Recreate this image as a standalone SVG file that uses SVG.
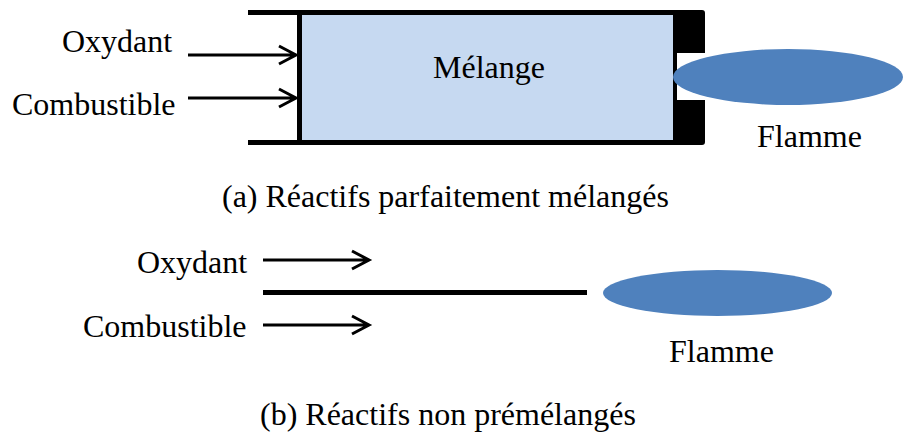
<svg xmlns="http://www.w3.org/2000/svg" width="904" height="437" viewBox="0 0 904 437">
<rect width="904" height="437" fill="#fff"/>
<g id="chamber">
<rect x="300" y="13" width="374" height="128" fill="#C6D9F1"/>
<g stroke="#000" stroke-width="5" fill="none">
<line x1="248" y1="12.5" x2="690" y2="12.5"/>
<line x1="248" y1="142.5" x2="690" y2="142.5"/>
<line x1="299.5" y1="10" x2="299.5" y2="145"/>
</g>
<path d="M673,10 H702 a3,3 0 0 1 3,3 V53 H677 V100 H705 V142 a3,3 0 0 1 -3,3 H673 Z" fill="#000"/>
<text x="433" y="78" font-family="Times New Roman" font-size="32">M&#233;lange</text>
</g>
<g id="flame-a">
<ellipse cx="788" cy="77" rx="115" ry="28" fill="#4F81BD"/>
<text x="757" y="147" font-family="Times New Roman" font-size="32">Flamme</text>
</g>
<g id="label-oxydant-a"><text x="62" y="52" font-family="Times New Roman" font-size="32">Oxydant</text></g>
<g id="label-combustible-a"><text x="12" y="115" font-family="Times New Roman" font-size="32">Combustible</text></g>
<g id="caption-a"><text x="222" y="207" font-family="Times New Roman" font-size="32">(a) R&#233;actifs parfaitement m&#233;lang&#233;s</text></g>
<g id="label-oxydant-b"><text x="137" y="273" font-family="Times New Roman" font-size="32">Oxydant</text></g>
<g id="label-combustible-b"><text x="83" y="337" font-family="Times New Roman" font-size="32">Combustible</text></g>
<g id="splitter"><line x1="263" y1="292.5" x2="587" y2="292.5" stroke="#000" stroke-width="5"/></g>
<g id="flame-b">
<ellipse cx="717.5" cy="293" rx="114.5" ry="23" fill="#4F81BD"/>
<text x="669" y="362" font-family="Times New Roman" font-size="32">Flamme</text>
</g>
<g id="caption-b"><text x="260" y="425" font-family="Times New Roman" font-size="32">(b) R&#233;actifs non pr&#233;m&#233;lang&#233;s</text></g>
<g id="connectors" stroke="#000" stroke-width="3" fill="none">
<path d="M188,55 H296 M279,46 L296,55 L279,64"/>
<path d="M188,98 H296 M279,89 L296,98 L279,107"/>
<path d="M263,260 H369 M352,251 L369,260 L352,269"/>
<path d="M263,325 H369 M352,316 L369,325 L352,334"/>
</g>
</svg>
